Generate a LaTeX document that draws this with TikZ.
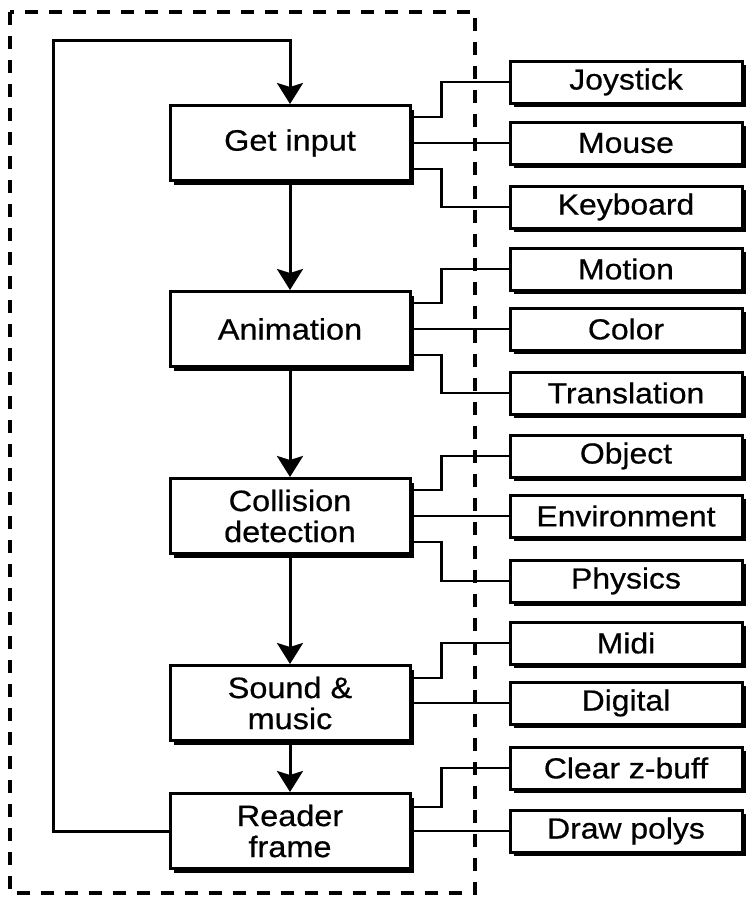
\documentclass[tikz,border=0pt]{standalone}
\usepackage{fontspec}
\setmainfont{Liberation Sans}[FakeStretch=1.1,FakeBold=0.6]
\usetikzlibrary{arrows.meta,shadows}
\begin{document}
\begin{tikzpicture}[x=1pt,y=-1pt,
  mainbox/.style={draw,line width=3pt,fill=white,minimum width=240pt,minimum height=75pt,inner sep=0pt,align=center,
    font=\fontsize{29.5}{31}\selectfont,
    drop shadow={shadow xshift=4pt,shadow yshift=-4pt,fill=black,opacity=1}},
  sidebox/.style={draw,line width=3pt,fill=white,minimum width=232pt,minimum height=42pt,inner sep=0pt,align=center,
    font=\fontsize{29}{30}\selectfont,
    drop shadow={shadow xshift=4pt,shadow yshift=-4pt,fill=black,opacity=1}},
  conn/.style={line width=2.6pt},
  flow/.style={line width=3pt,-{Stealth[length=21pt,width=26pt,inset=4pt]}},
  frame/.style={line width=3.5pt,dash pattern=on 13pt off 11pt}
]
\useasboundingbox (0,0) rectangle (747,900);
\draw[frame] (10,12) rectangle (475,893);

\node[mainbox] (gi) at (290,143) {Get input};
\node[mainbox] (an) at (290,329) {Animation};
\node[mainbox] (cd) at (290,516) {Collision\\detection};
\node[mainbox] (sm) at (290,703) {Sound \&\\music};
\node[mainbox] (rf) at (290,831) {Reader\\frame};

\node[sidebox] (joy) at (626,82) {Joystick};
\node[sidebox] (mou) at (626,143) {Mouse};
\node[sidebox] (key) at (626,207) {Keyboard};
\node[sidebox] (mot) at (626,269) {Motion};
\node[sidebox] (col) at (626,329) {Color};
\node[sidebox] (tra) at (626,393) {Translation};
\node[sidebox] (obj) at (626,456) {Object};
\node[sidebox] (env) at (626,516) {Environment};
\node[sidebox] (phy) at (626,581) {Physics};
\node[sidebox] (mid) at (626,643) {Midi};
\node[sidebox] (dig) at (626,703) {Digital};
\node[sidebox] (clr) at (626,768) {Clear z-buff};
\node[sidebox] (drw) at (626,831) {Draw polys};

% flow arrows
\draw[flow] (gi.south) -- (an.north);
\draw[flow] (an.south) -- (cd.north);
\draw[flow] (cd.south) -- (sm.north);
\draw[flow] (sm.south) -- (rf.north);
\coordinate (fb) at (53,40);
\draw[flow] (rf.west) -| (fb) -| (gi.north);

% side connectors
\draw[conn] ([yshift=26pt]gi.east) -- ++(30,0) |- (joy.west);
\draw[conn] (gi.east) -- (mou.west);
\draw[conn] ([yshift=-26pt]gi.east) -- ++(30,0) |- (key.west);

\draw[conn] ([yshift=26pt]an.east) -- ++(30,0) |- (mot.west);
\draw[conn] (an.east) -- (col.west);
\draw[conn] ([yshift=-26pt]an.east) -- ++(30,0) |- (tra.west);

\draw[conn] ([yshift=26pt]cd.east) -- ++(30,0) |- (obj.west);
\draw[conn] (cd.east) -- (env.west);
\draw[conn] ([yshift=-26pt]cd.east) -- ++(30,0) |- (phy.west);

\draw[conn] ([yshift=25pt]sm.east) -- ++(30,0) |- (mid.west);
\draw[conn] (sm.east) -- (dig.west);

\draw[conn] ([yshift=24pt]rf.east) -- ++(30,0) |- (clr.west);
\draw[conn] (rf.east) -- (drw.west);
\end{tikzpicture}
\end{document}
